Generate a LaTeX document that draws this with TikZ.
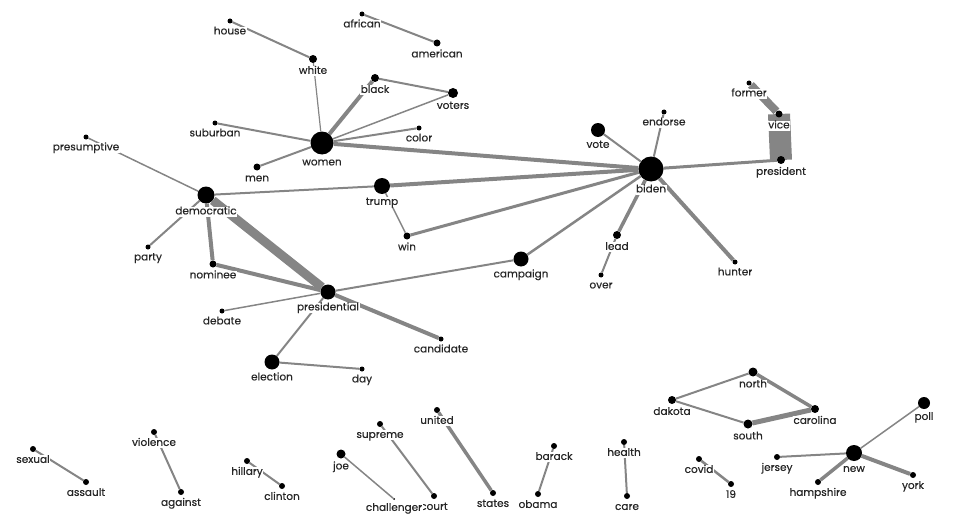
\documentclass[tikz,border=0pt]{standalone}
\usepackage{fontspec}
\setmainfont{Poppins}[FakeBold=0.4]
\usetikzlibrary{backgrounds}

\begin{document}
\begin{tikzpicture}[
    x=1pt, y=-1pt,
    font=\fontsize{10.5}{12}\selectfont,
    dot/.style={circle, fill=black, inner sep=0pt, minimum size=#1},
    lab/.style={fill=white, inner sep=0.5pt, text height=7.2pt, text depth=2pt,
                label distance=2.8pt, text=black!85},
    ed/.style={draw=black!48, line width=#1}
  ]
    \useasboundingbox (0,0) rectangle (954,519);
    % ---- women / biden cluster ----
    \node[dot=5pt, label={[lab]below:house}] (house) at (230,21) {};
    \node[dot=5pt, label={[lab]below:african}] (african) at (362,14) {};
    \node[dot=7pt, label={[lab]below:american}] (american) at (437,43) {};
    \node[dot=8pt, label={[lab]below:white}] (white) at (313,59) {};
    \node[dot=8pt, label={[lab]below:black}] (black) at (375,78) {};
    \node[dot=10pt, label={[lab]below:voters}] (voters) at (453,93) {};
    \node[dot=5pt, label={[lab]below:suburban}] (suburban) at (215,123) {};
    \node[dot=5pt, label={[lab]below:color}] (color) at (419,128) {};
    \node[dot=23pt, label={[lab]below:women}] (women) at (322,143) {};
    \node[dot=7pt, label={[lab]below:men}] (men) at (257,167) {};
    \node[dot=5pt, label={[lab]below:presumptive}] (presumptive) at (86,137) {};
    \node[dot=17pt, label={[lab]below:democratic}] (democratic) at (206,195) {};
    \node[dot=16pt, label={[lab]below:trump}] (trump) at (382,186) {};
    \node[dot=7pt, label={[lab]below:win}] (win) at (407,236) {};
    \node[dot=5pt, label={[lab]below:party}] (party) at (148,247) {};
    \node[dot=5pt, label={[lab]below:former}] (former) at (749,83) {};
    \node[dot=7pt, label={[lab]below:vice}] (vice) at (779,114) {};
    \node[dot=8pt, label={[lab]below:president}] (president) at (781,160) {};
    \node[dot=5pt, label={[lab]below:endorse}] (endorse) at (664,112) {};
    \node[dot=14pt, label={[lab]below:vote}] (vote) at (598,130) {};
    \node[dot=25pt, label={[lab]below:biden}] (biden) at (651,169) {};
    \node[dot=8pt, label={[lab]below:lead}] (lead) at (617,235) {};
    \node[dot=15pt, label={[lab]below:campaign}] (campaign) at (521,259) {};
    \node[dot=5pt, label={[lab]below:over}] (over) at (601,275) {};
    \node[dot=5pt, label={[lab]below:hunter}] (hunter) at (735,262) {};
    \node[dot=7pt, label={[lab]below:nominee}] (nominee) at (213,264) {};
    \node[dot=15pt, label={[lab]below:presidential}] (presidential) at (328,292) {};
    \node[dot=5pt, label={[lab]below:debate}] (debate) at (222,311) {};
    \node[dot=5pt, label={[lab]below:candidate}] (candidate) at (441,339) {};
    \node[dot=15pt, label={[lab]below:election}] (election) at (272,362) {};
    \node[dot=5pt, label={[lab]below:day}] (day) at (362,369) {};
    % ---- small pairs ----
    \node[dot=6pt, label={[lab]below:sexual}] (sexual) at (33,449) {};
    \node[dot=6pt, label={[lab]below:assault}] (assault) at (86,482) {};
    \node[dot=6pt, label={[lab]below:violence}] (violence) at (154,432) {};
    \node[dot=6pt, label={[lab]below:against}] (against) at (181,492) {};
    \node[dot=6pt, label={[lab]below:hillary}] (hillary) at (247,461) {};
    \node[dot=6pt, label={[lab]below:clinton}] (clinton) at (282,486) {};
    \node[dot=9pt, label={[lab]below:joe}] (joe) at (341,454) {};
    \node[dot=6pt, label={[lab]below:supreme}] (supreme) at (380,424) {};
    \node[dot=6pt, label={[lab]below:court}] (court) at (434,496) {};
    \node[dot=2pt, label={[lab]below:challenger}] (challenger) at (394,499) {};
    \node[dot=6pt, label={[lab]below:united}] (united) at (437,410) {};
    \node[dot=6pt, label={[lab]below:states}] (states) at (493,493) {};
    \node[dot=6pt, label={[lab]below:barack}] (barack) at (554,446) {};
    \node[dot=6pt, label={[lab]below:obama}] (obama) at (538,494) {};
    \node[dot=6pt, label={[lab]below:health}] (health) at (624,442) {};
    \node[dot=6pt, label={[lab]below:care}] (care) at (627,496) {};
    \node[dot=6pt, label={[lab]below:covid}] (covid) at (699,459) {};
    \node[dot=6pt, label={[lab]below:19}] (nineteen) at (731,484) {};
    % ---- states / new ----
    \node[dot=9pt, label={[lab]below:north}] (north) at (753,372) {};
    \node[dot=8pt, label={[lab]below:dakota}] (dakota) at (672,400) {};
    \node[dot=9pt, label={[lab]below:south}] (south) at (748,424) {};
    \node[dot=8pt, label={[lab]below:carolina}] (carolina) at (815,409) {};
    \node[dot=12pt, label={[lab]below:poll}] (poll) at (924,403) {};
    \node[dot=16pt, label={[lab]below:new}] (new) at (854,453) {};
    \node[dot=6pt, label={[lab]below:jersey}] (jersey) at (777,457) {};
    \node[dot=6pt, label={[lab]below:hampshire}] (hampshire) at (818,482) {};
    \node[dot=6pt, label={[lab]below:york}] (york) at (913,475) {};
    % ---- edges ----
    \begin{pgfonlayer}{background}
    \draw[ed=2pt] (house) -- (white);
    \draw[ed=2pt] (african) -- (american);
    \draw[ed=1.2pt] (white) -- (women);
    \draw[ed=4pt] (black) -- (women);
    \draw[ed=2pt] (black) -- (voters);
    \draw[ed=1.5pt] (voters) -- (women);
    \draw[ed=2pt] (color) -- (women);
    \draw[ed=2pt] (suburban) -- (women);
    \draw[ed=2pt] (men) -- (women);
    \draw[ed=4pt] (women) -- (biden);
    \draw[ed=1.5pt] (presumptive) -- (democratic);
    \draw[ed=2pt] (democratic) -- (trump);
    \draw[ed=4pt] (trump) -- (biden);
    \draw[ed=1.5pt] (trump) -- (win);
    \draw[ed=3pt] (win) -- (biden);
    \draw[ed=2pt] (party) -- (democratic);
    \draw[ed=4pt] (democratic) -- (nominee);
    \draw[ed=9pt] (democratic) -- (presidential);
    \draw[ed=4pt] (nominee) -- (presidential);
    \draw[ed=2pt] (presidential) -- (campaign);
    \draw[ed=2.5pt] (campaign) -- (biden);
    \draw[ed=1.5pt] (debate) -- (presidential);
    \draw[ed=4pt] (presidential) -- (candidate);
    \draw[ed=2pt] (presidential) -- (election);
    \draw[ed=2pt] (election) -- (day);
    \draw[ed=2pt] (vote) -- (biden);
    \draw[ed=2pt] (endorse) -- (biden);
    \draw[ed=3pt] (biden) -- (president);
    \draw[ed=8pt] (former) -- (vice);
    \draw[ed=22pt] (vice.center) -- (president.center);
    \draw[ed=3.5pt] (biden) -- (lead);
    \draw[ed=2pt] (lead) -- (over);
    \draw[ed=4pt] (biden) -- (hunter);
    \draw[ed=2pt] (sexual) -- (assault);
    \draw[ed=2pt] (violence) -- (against);
    \draw[ed=2pt] (hillary) -- (clinton);
    \draw[ed=1.5pt] (joe) -- (challenger);
    \draw[ed=2pt] (supreme) -- (court);
    \draw[ed=3.5pt] (united) -- (states);
    \draw[ed=2pt] (barack) -- (obama);
    \draw[ed=2pt] (health) -- (care);
    \draw[ed=2.5pt] (covid) -- (nineteen);
    \draw[ed=2pt] (dakota) -- (north);
    \draw[ed=3.5pt] (north) -- (carolina);
    \draw[ed=2pt] (dakota) -- (south);
    \draw[ed=5pt] (south) -- (carolina);
    \draw[ed=1.5pt] (new) -- (poll);
    \draw[ed=2pt] (new) -- (jersey);
    \draw[ed=3.5pt] (new) -- (hampshire);
    \draw[ed=4pt] (new) -- (york);
    \end{pgfonlayer}
  \end{tikzpicture}
\end{document}
